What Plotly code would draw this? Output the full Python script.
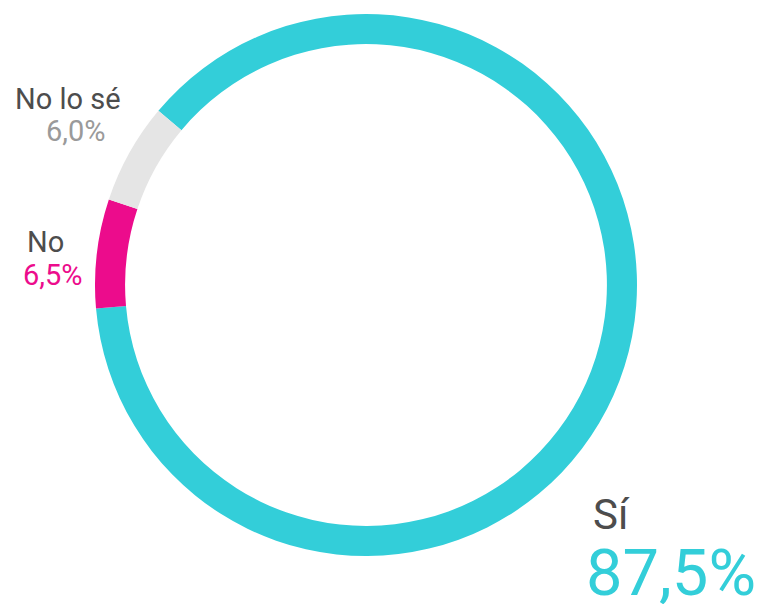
import plotly.graph_objects as go

labels = ["Sí", "No", "No lo sé"]
values = [87.5, 6.5, 6.0]
slice_colors = ["#33CED9", "#EC0C8C", "#E5E5E5"]
pct_colors = ["#33CED9", "#EC0C8C", "#9A9A9A"]

W, H = 762, 604
def px(x):
    return x / W
def py(y):
    return 1 - y / H

cx, cy, R = 366, 285, 271
fig = go.Figure(go.Pie(
    labels=labels, values=values, sort=False, direction="clockwise",
    rotation=-50, hole=0.889, textinfo="none", hoverinfo="label+percent",
    marker=dict(colors=slice_colors, line=dict(width=0)),
    domain=dict(x=[px(cx - R), px(cx + R)], y=[py(cy + R), py(cy - R)]),
    showlegend=False,
))

def fmt(v):
    return f"{v:.1f}".replace(".", ",") + "%"

# label positions (pixel): (name_x, name_y, pct_x, pct_y, name_size, pct_size)
pos = {
    "Sí": (591, 514, 584, 573, 42, 65),
    "No": (25, 242, 21, 275, 29, 29),
    "No lo sé": (13, 99, 44, 131, 29, 29),
}
ann = []
for lab, v, pc in zip(labels, values, pct_colors):
    nx, ny, qx, qy, ns, qs = pos[lab]
    ann.append(dict(x=px(nx), y=py(ny), xref="paper", yref="paper", text=lab,
                    showarrow=False, xanchor="left", yanchor="middle",
                    font=dict(family="Roboto", size=ns, color="#4D4D4D")))
    ann.append(dict(x=px(qx), y=py(qy), xref="paper", yref="paper", text=fmt(v),
                    showarrow=False, xanchor="left", yanchor="middle",
                    font=dict(family="Roboto", size=qs, color=pc)))

fig.update_layout(width=W, height=H, margin=dict(l=0, r=0, t=0, b=0),
                  paper_bgcolor="white", plot_bgcolor="white",
                  annotations=ann, font=dict(family="Roboto"))
fig.write_html("out.html", config={"displayModeBar": False},
               post_script="document.body.style.margin='0';")
